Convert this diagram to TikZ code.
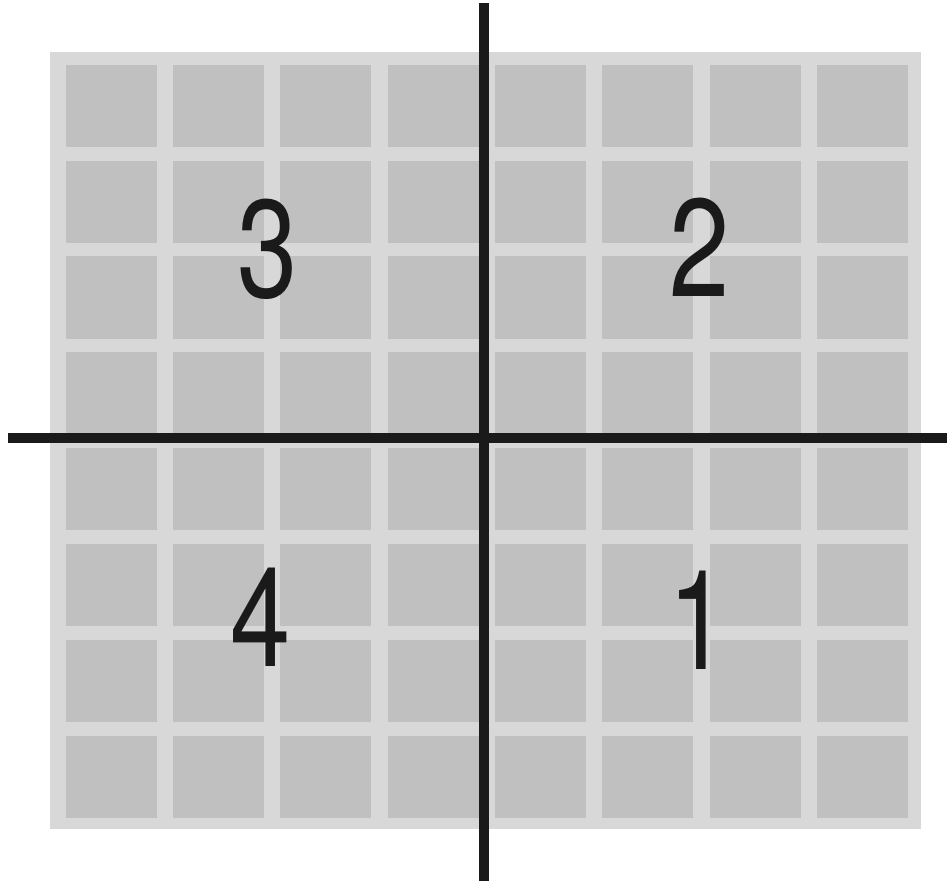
\documentclass[tikz,border=0pt]{standalone}
\usepackage{fontspec}
\setmainfont{TeX Gyre Heros}
\usepackage{tikz}
\usetikzlibrary{positioning}
\definecolor{paneback}{RGB}{216,216,216}
\definecolor{panecell}{RGB}{192,192,192}
\definecolor{axisink}{RGB}{26,26,26}

\begin{document}
\begin{tikzpicture}[x=0.01cm, y=-0.01cm]
  \tikzstyle{cell} = [rectangle, fill=panecell, draw=none, minimum width=0.91cm, minimum height=0.82cm, inner sep=0pt, anchor=north west]
  \tikzstyle{axis} = [line width=0.1cm, axisink]
  \tikzstyle{quadrant} = [inner sep=0pt, anchor=base, text=axisink, font=\fontsize{39.5}{39.5}\selectfont, xscale=0.78]

  \useasboundingbox (0,0) rectangle (947,882);

  % Background pane
  \fill[paneback] (50,52) rectangle (921,829);

  % 8 x 8 grid of cells
  \foreach \i in {0,...,7} {
    \foreach \j in {0,...,7} {
      \node [cell] (c\i\j) at (65+107.3*\i, 64+95.9*\j) {};
    }
  }

  % Axes
  \coordinate (xleft) at (8,438);
  \coordinate (xright) at (947,438);
  \coordinate (ytop) at (484,3);
  \coordinate (ybottom) at (484,881);
  \draw[axis] (xleft) -- (xright);
  \draw[axis] (ytop) -- (ybottom);

  % Quadrant numbers
  \node [quadrant] (q1) at (699,670) {1};
  \node [quadrant] (q2) at (700,297) {2};
  \node [quadrant] (q3) at (268,298) {3};
  \node [quadrant] (q4) at (261,667) {4};
\end{tikzpicture}
\end{document}
